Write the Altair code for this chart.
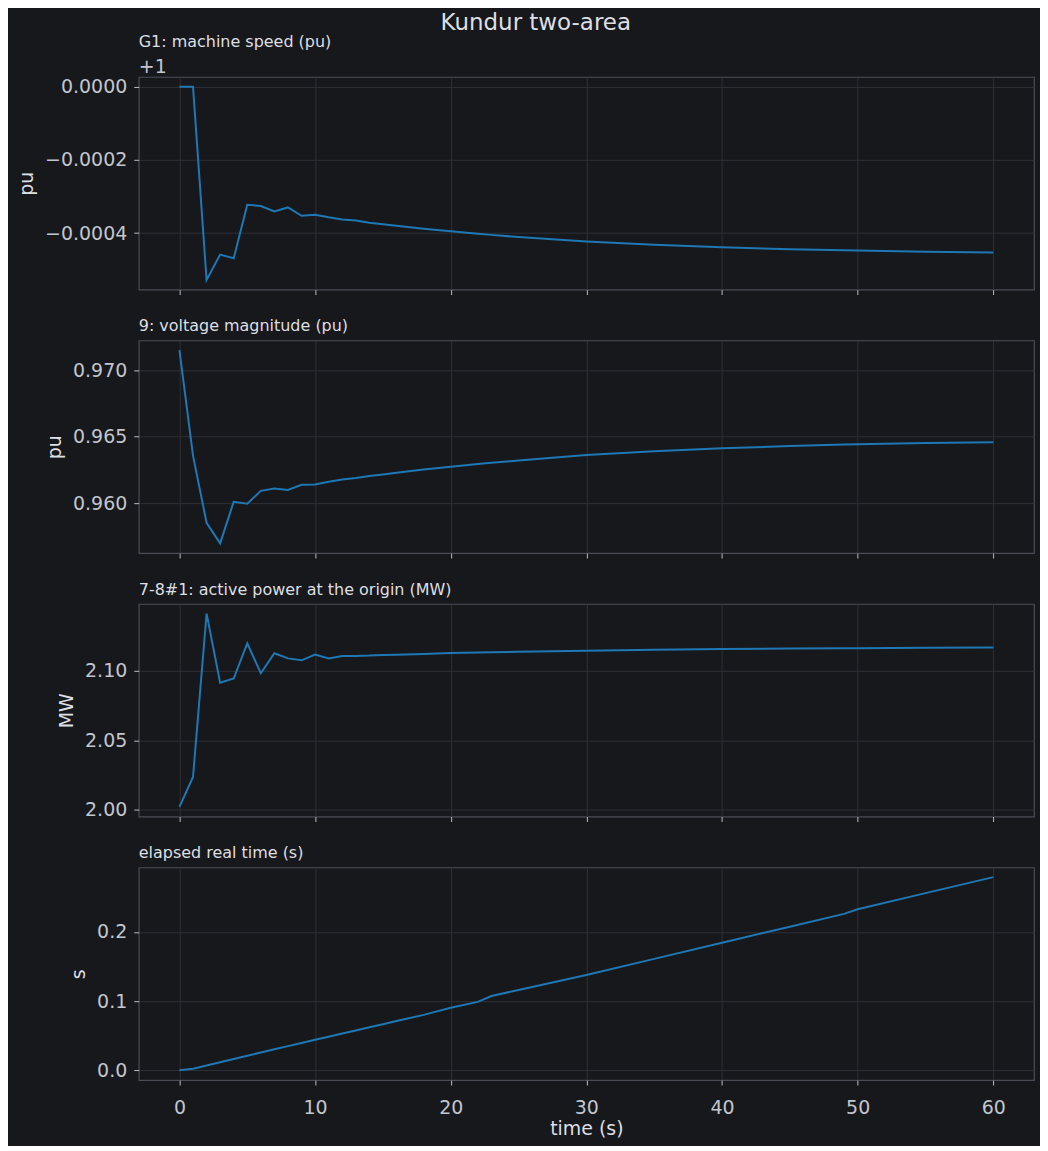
import altair as alt
import pandas as pd

# simulation time (s)
time_s = [0, 1, 2, 3, 4, 5, 6, 7, 8, 9, 10, 11, 12, 13, 14, 15, 16, 18, 20,
          22, 23, 25, 30, 35, 40, 45, 49, 50, 55, 60]

# G1 machine speed, shown as offset from 1 pu
g1_speed_dev = [0.0, 0.0, -0.000528, -0.000459, -0.000469, -0.000323, -0.000326,
                -0.000341, -0.000330, -0.000353, -0.000350, -0.000357, -0.000363,
                -0.000366, -0.000372, -0.000376, -0.000380, -0.000388, -0.000395,
                -0.000402, -0.000405, -0.000411, -0.000423, -0.000432, -0.000439,
                -0.000444, -0.000447, -0.000448, -0.000451, -0.000453]

# bus 9 voltage magnitude (pu)
bus9_voltage = [0.9715, 0.96357, 0.95852, 0.95697, 0.96010, 0.95995, 0.96092,
                0.96110, 0.96098, 0.96138, 0.96140, 0.96160, 0.96178, 0.96188,
                0.96203, 0.96215, 0.96228, 0.96253, 0.96274, 0.96294, 0.96303,
                0.96320, 0.96362, 0.96390, 0.96412, 0.96429, 0.96440, 0.96442,
                0.96451, 0.96457]

# line 7-8 #1 active power at origin (MW)
line78_power = [2.0019, 2.0235, 2.1413, 2.0915, 2.0945, 2.1199, 2.0983, 2.1127,
                2.1090, 2.1076, 2.1117, 2.1090, 2.1107, 2.1108, 2.1110, 2.1115,
                2.1117, 2.1122, 2.1128, 2.1132, 2.1134, 2.1138, 2.1146, 2.1153,
                2.1158, 2.1161, 2.1163, 2.1163, 2.1166, 2.1168]

# elapsed wall-clock time (s)
elapsed_real = [0.0, 0.0024, 0.0070, 0.0117, 0.0164, 0.0211, 0.0258, 0.0304,
                0.0350, 0.0396, 0.0442, 0.0487, 0.0532, 0.0577, 0.0622, 0.0667,
                0.0712, 0.0802, 0.0905, 0.0990, 0.1075, 0.1162, 0.1377, 0.1611,
                0.1845, 0.2075, 0.2261, 0.2329, 0.2561, 0.2793]

df = pd.DataFrame({
    "time": time_s,
    "speed": g1_speed_dev,
    "voltage": bus9_voltage,
    "power": line78_power,
    "elapsed": elapsed_real,
})

BG = "#17181c"
FONT = "DejaVu Sans"
TICK_COLOR = "#c3c6cc"
TEXT_COLOR = "#dedfe2"
W, H = 897, 213


def panel(field, title, ylabel, yticks, fmt, last=False, offset_text=None):
    lo, hi = df[field].min(), df[field].max()
    pad = (hi - lo) * 0.05
    x_axis = alt.Axis(
        values=list(range(0, 61, 10)),
        labels=last,
        title="time (s)" if last else None,
        labelPadding=14,
        titlePadding=2,
    )
    y_axis = alt.Axis(values=yticks, format=fmt, title=ylabel)
    tp = dict(
        text=title, anchor="start", frame="group", fontSize=16,
        font=FONT, fontWeight="normal", color=TEXT_COLOR, offset=6,
    )
    if offset_text:
        tp.update(subtitle=offset_text, subtitleFontSize=19, subtitleFont=FONT,
                  subtitleColor=TICK_COLOR, subtitlePadding=8, offset=0)
    return alt.Chart(df).mark_line(color="#1f77b4", strokeWidth=2).encode(
        x=alt.X("time:Q", axis=x_axis,
                scale=alt.Scale(domain=[-3, 63], nice=False, zero=False)),
        y=alt.Y(f"{field}:Q", axis=y_axis,
                scale=alt.Scale(domain=[lo - pad, hi + pad], nice=False, zero=False)),
    ).properties(width=W, height=H, title=alt.TitleParams(**tp))


p1 = panel("speed", "G1: machine speed (pu)", "pu", [0.0, -0.0002, -0.0004], ".4f",
           offset_text="+1")
p2 = panel("voltage", "9: voltage magnitude (pu)", "pu", [0.960, 0.965, 0.970], ".3f")
p3 = panel("power", "7-8#1: active power at the origin (MW)", "MW", [2.00, 2.05, 2.10], ".2f")
p4 = panel("elapsed", "elapsed real time (s)", "s", [0.0, 0.1, 0.2], ".1f", last=True)

chart = alt.vconcat(p1, p2, p3, p4, spacing=21).properties(
    title=alt.TitleParams("Kundur two-area", anchor="middle", fontSize=23,
                          font=FONT, fontWeight="normal", color=TEXT_COLOR,
                          offset=-2, dx=10),
    background=BG,
    padding={"left": 8, "top": 3, "right": 5, "bottom": 5},
).configure_view(
    stroke="#4a4d55", strokeWidth=1.2, fill=BG,
).configure_axis(
    domain=False,
    grid=True,
    gridColor="#2e3036",
    gridWidth=1,
    tickColor="#b8bcc4",
    tickSize=5,
    tickWidth=1,
    labelColor=TICK_COLOR,
    labelFont=FONT,
    labelFontSize=19,
    titleColor=TEXT_COLOR,
    titleFont=FONT,
    titleFontSize=19,
    titleFontWeight="normal",
).configure_axisY(
    labelPadding=7,
    titlePadding=8,
).configure_concat(spacing=21)

chart.save("out.html", embed_options={"renderer": "svg", "actions": False})
